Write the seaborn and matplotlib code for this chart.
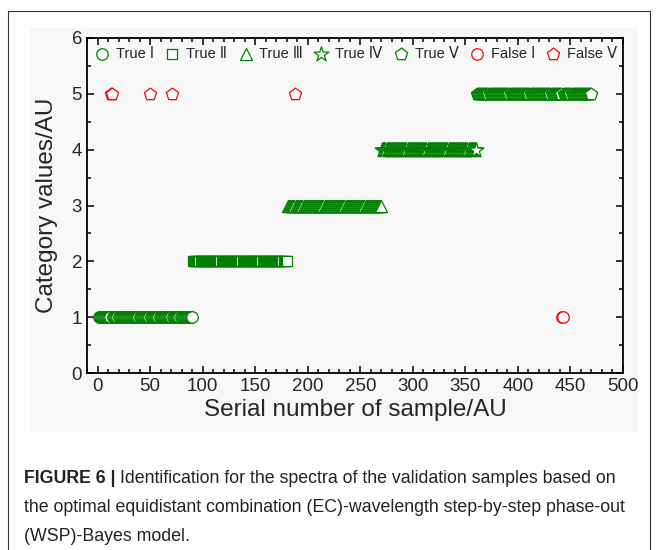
import numpy as np
import pandas as pd
import matplotlib
matplotlib.use('Agg')
import matplotlib.pyplot as plt
from matplotlib.patches import Rectangle
from matplotlib.lines import Line2D
from matplotlib.ticker import MultipleLocator
import seaborn as sns

# Sample ranges of each true class (serial numbers)
class_names = ['True Ⅰ', 'True Ⅱ', 'True Ⅲ', 'True Ⅳ', 'True Ⅴ']
class_values = [1, 2, 3, 4, 5]
class_start = [1, 91, 181, 271, 361]
class_end = [90, 180, 270, 360, 470]

# Misclassified samples
false_v_samples = [13, 14, 50, 71, 188]
false_i_samples = [442, 443]

markers = ['o', 's', '^', '*', 'p']
green = '#008000'
red = '#ff0000'

# Build the table of points
rows = []
wrong = set(false_v_samples + false_i_samples)
for name, val, a, b in zip(class_names, class_values, class_start, class_end):
    for s in range(a, b + 1):
        if s not in wrong:
            rows.append((s, val, name))
for s in false_i_samples:
    rows.append((s, 1, 'False Ⅰ'))
for s in false_v_samples:
    rows.append((s, 5, 'False Ⅴ'))
df = pd.DataFrame(rows, columns=['sample', 'category', 'group'])

sns.set_style('ticks')
plt.rcParams['font.family'] = ['Liberation Sans', 'DejaVu Sans']

fig = plt.figure(figsize=(6.57, 5.5), dpi=100)
W, H = 657, 550

# light grey panel behind the plot and the outer frame
fig.patches.append(Rectangle((30 / W, 1 - 432 / H), 608 / W, 404 / H,
                             transform=fig.transFigure, facecolor='#f7f7f7',
                             edgecolor='none', zorder=-5))
frame_x = [8 / W, 8 / W, 650 / W, 650 / W]
frame_y = [0, 1 - 11 / H, 1 - 11 / H, 0]
fig.add_artist(Line2D(frame_x, frame_y, color='#333333', linewidth=0.8, zorder=-4))

ax = fig.add_axes([87 / W, 1 - 373 / H, 536 / W, 335 / H])
ax.set_facecolor('none')

sizes = {'o': 68, 's': 60, '^': 75, '*': 125, 'p': 85}
styles = [(n, m, green) for n, m in zip(class_names, markers)]
styles += [('False Ⅰ', 'o', red), ('False Ⅴ', 'p', red)]
for name, m, col in styles:
    sub = df[df['group'] == name]
    sns.scatterplot(data=sub, x='sample', y='category', marker=m, s=sizes[m],
                    facecolor='white', edgecolor=col, linewidth=0.9,
                    label=name, ax=ax, zorder=3)

ax.set_xlim(-10, 500)
ax.set_ylim(0, 6)
ax.xaxis.set_major_locator(MultipleLocator(50))
ax.xaxis.set_minor_locator(MultipleLocator(10))
ax.yaxis.set_major_locator(MultipleLocator(1))
ax.yaxis.set_minor_locator(MultipleLocator(0.5))
ax.tick_params(which='both', direction='in', top=True, right=True,
               labelsize=13.5, width=1.1, color='black')
ax.tick_params(which='major', length=5)
ax.tick_params(which='minor', length=3)
for sp in ax.spines.values():
    sp.set_visible(True)
    sp.set_linewidth(1.3)
    sp.set_color('black')

ax.set_xlabel('Serial number of sample/AU', fontsize=17.5, labelpad=3)
ax.set_ylabel('Category values/AU', fontsize=17.5, labelpad=10)

leg = ax.legend(loc='upper center', ncol=7, frameon=False, fontsize=10.5,
                handletextpad=0.3, columnspacing=0.6, handlelength=1.3,
                borderaxespad=0.2, bbox_to_anchor=(0.5, 1.0))
for h, (name, m, col) in zip(leg.legend_handles, styles):
    h.set_sizes([sizes[m]])

# caption
cap_x = 24 / W
fs = 12.8
fig.canvas.draw()
r = fig.canvas.get_renderer()
t = fig.text(cap_x, 1 - 483 / H, 'FIGURE 6 |', fontsize=fs, fontweight='bold',
             color='#222222', va='baseline')
bb = t.get_window_extent(renderer=r)
fig.text((bb.x1 + 4) / W, 1 - 483 / H,
         'Identification for the spectra of the validation samples based on',
         fontsize=fs, color='#222222', va='baseline')
fig.text(cap_x, 1 - 512 / H,
         'the optimal equidistant combination (EC)-wavelength step-by-step phase-out',
         fontsize=fs, color='#222222', va='baseline')
fig.text(cap_x, 1 - 541 / H, '(WSP)-Bayes model.',
         fontsize=fs, color='#222222', va='baseline')

fig.savefig('out.png', dpi=100)
